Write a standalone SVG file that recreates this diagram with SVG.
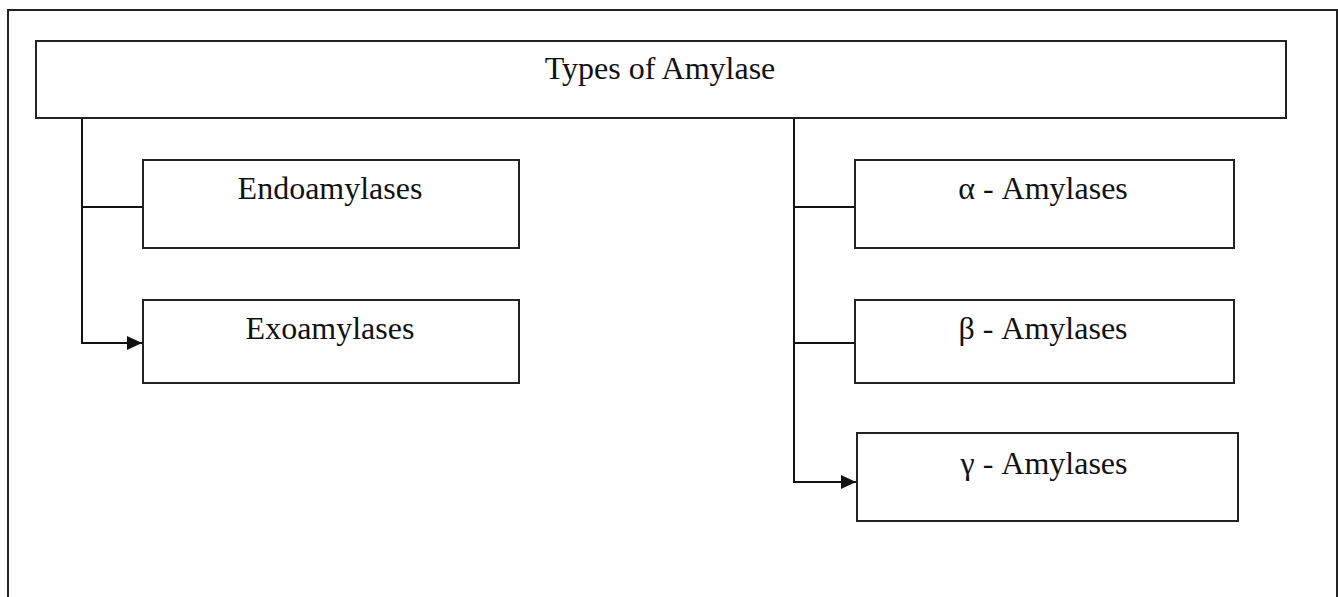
<svg xmlns="http://www.w3.org/2000/svg" width="1338" height="597" viewBox="0 0 1338 597">
<style>
.box{fill:#fff;stroke:#222;stroke-width:2}
.lbl{font-family:"Liberation Serif","Times New Roman",serif;font-size:32px;fill:#111;text-anchor:middle}
.con{fill:none;stroke:#111;stroke-width:2}
</style>
<defs>
<marker id="arr" markerWidth="15" markerHeight="14" refX="15" refY="7" orient="auto" markerUnits="userSpaceOnUse">
<path d="M0,0 L15,7 L0,14 z" fill="#111"/>
</marker>
</defs>
<rect x="0" y="0" width="1338" height="597" fill="#fff"/>
<rect x="8" y="10" width="1329" height="620" fill="none" stroke="#222" stroke-width="2"/>
<g id="connectors">
<path class="con" d="M82,119 V343 H142" marker-end="url(#arr)"/>
<path class="con" d="M82,207 H143"/>
<path class="con" d="M794,119 V482 H856" marker-end="url(#arr)"/>
<path class="con" d="M794,207 H855"/>
<path class="con" d="M794,343 H855"/>
</g>
<g id="types">
<rect class="box" x="36" y="41" width="1250" height="77"/>
<text class="lbl" x="660" y="79">Types of Amylase</text>
</g>
<g id="endo">
<rect class="box" x="143" y="160" width="376" height="88"/>
<text class="lbl" x="330" y="199">Endoamylases</text>
</g>
<g id="exo">
<rect class="box" x="143" y="300" width="376" height="83"/>
<text class="lbl" x="330" y="339">Exoamylases</text>
</g>
<g id="alpha">
<rect class="box" x="855" y="160" width="379" height="88"/>
<text class="lbl" x="1043" y="199">α - Amylases</text>
</g>
<g id="beta">
<rect class="box" x="855" y="300" width="379" height="83"/>
<text class="lbl" x="1043" y="339">β - Amylases</text>
</g>
<g id="gamma">
<rect class="box" x="857" y="433" width="381" height="88"/>
<text class="lbl" x="1044" y="474">γ - Amylases</text>
</g>
</svg>
